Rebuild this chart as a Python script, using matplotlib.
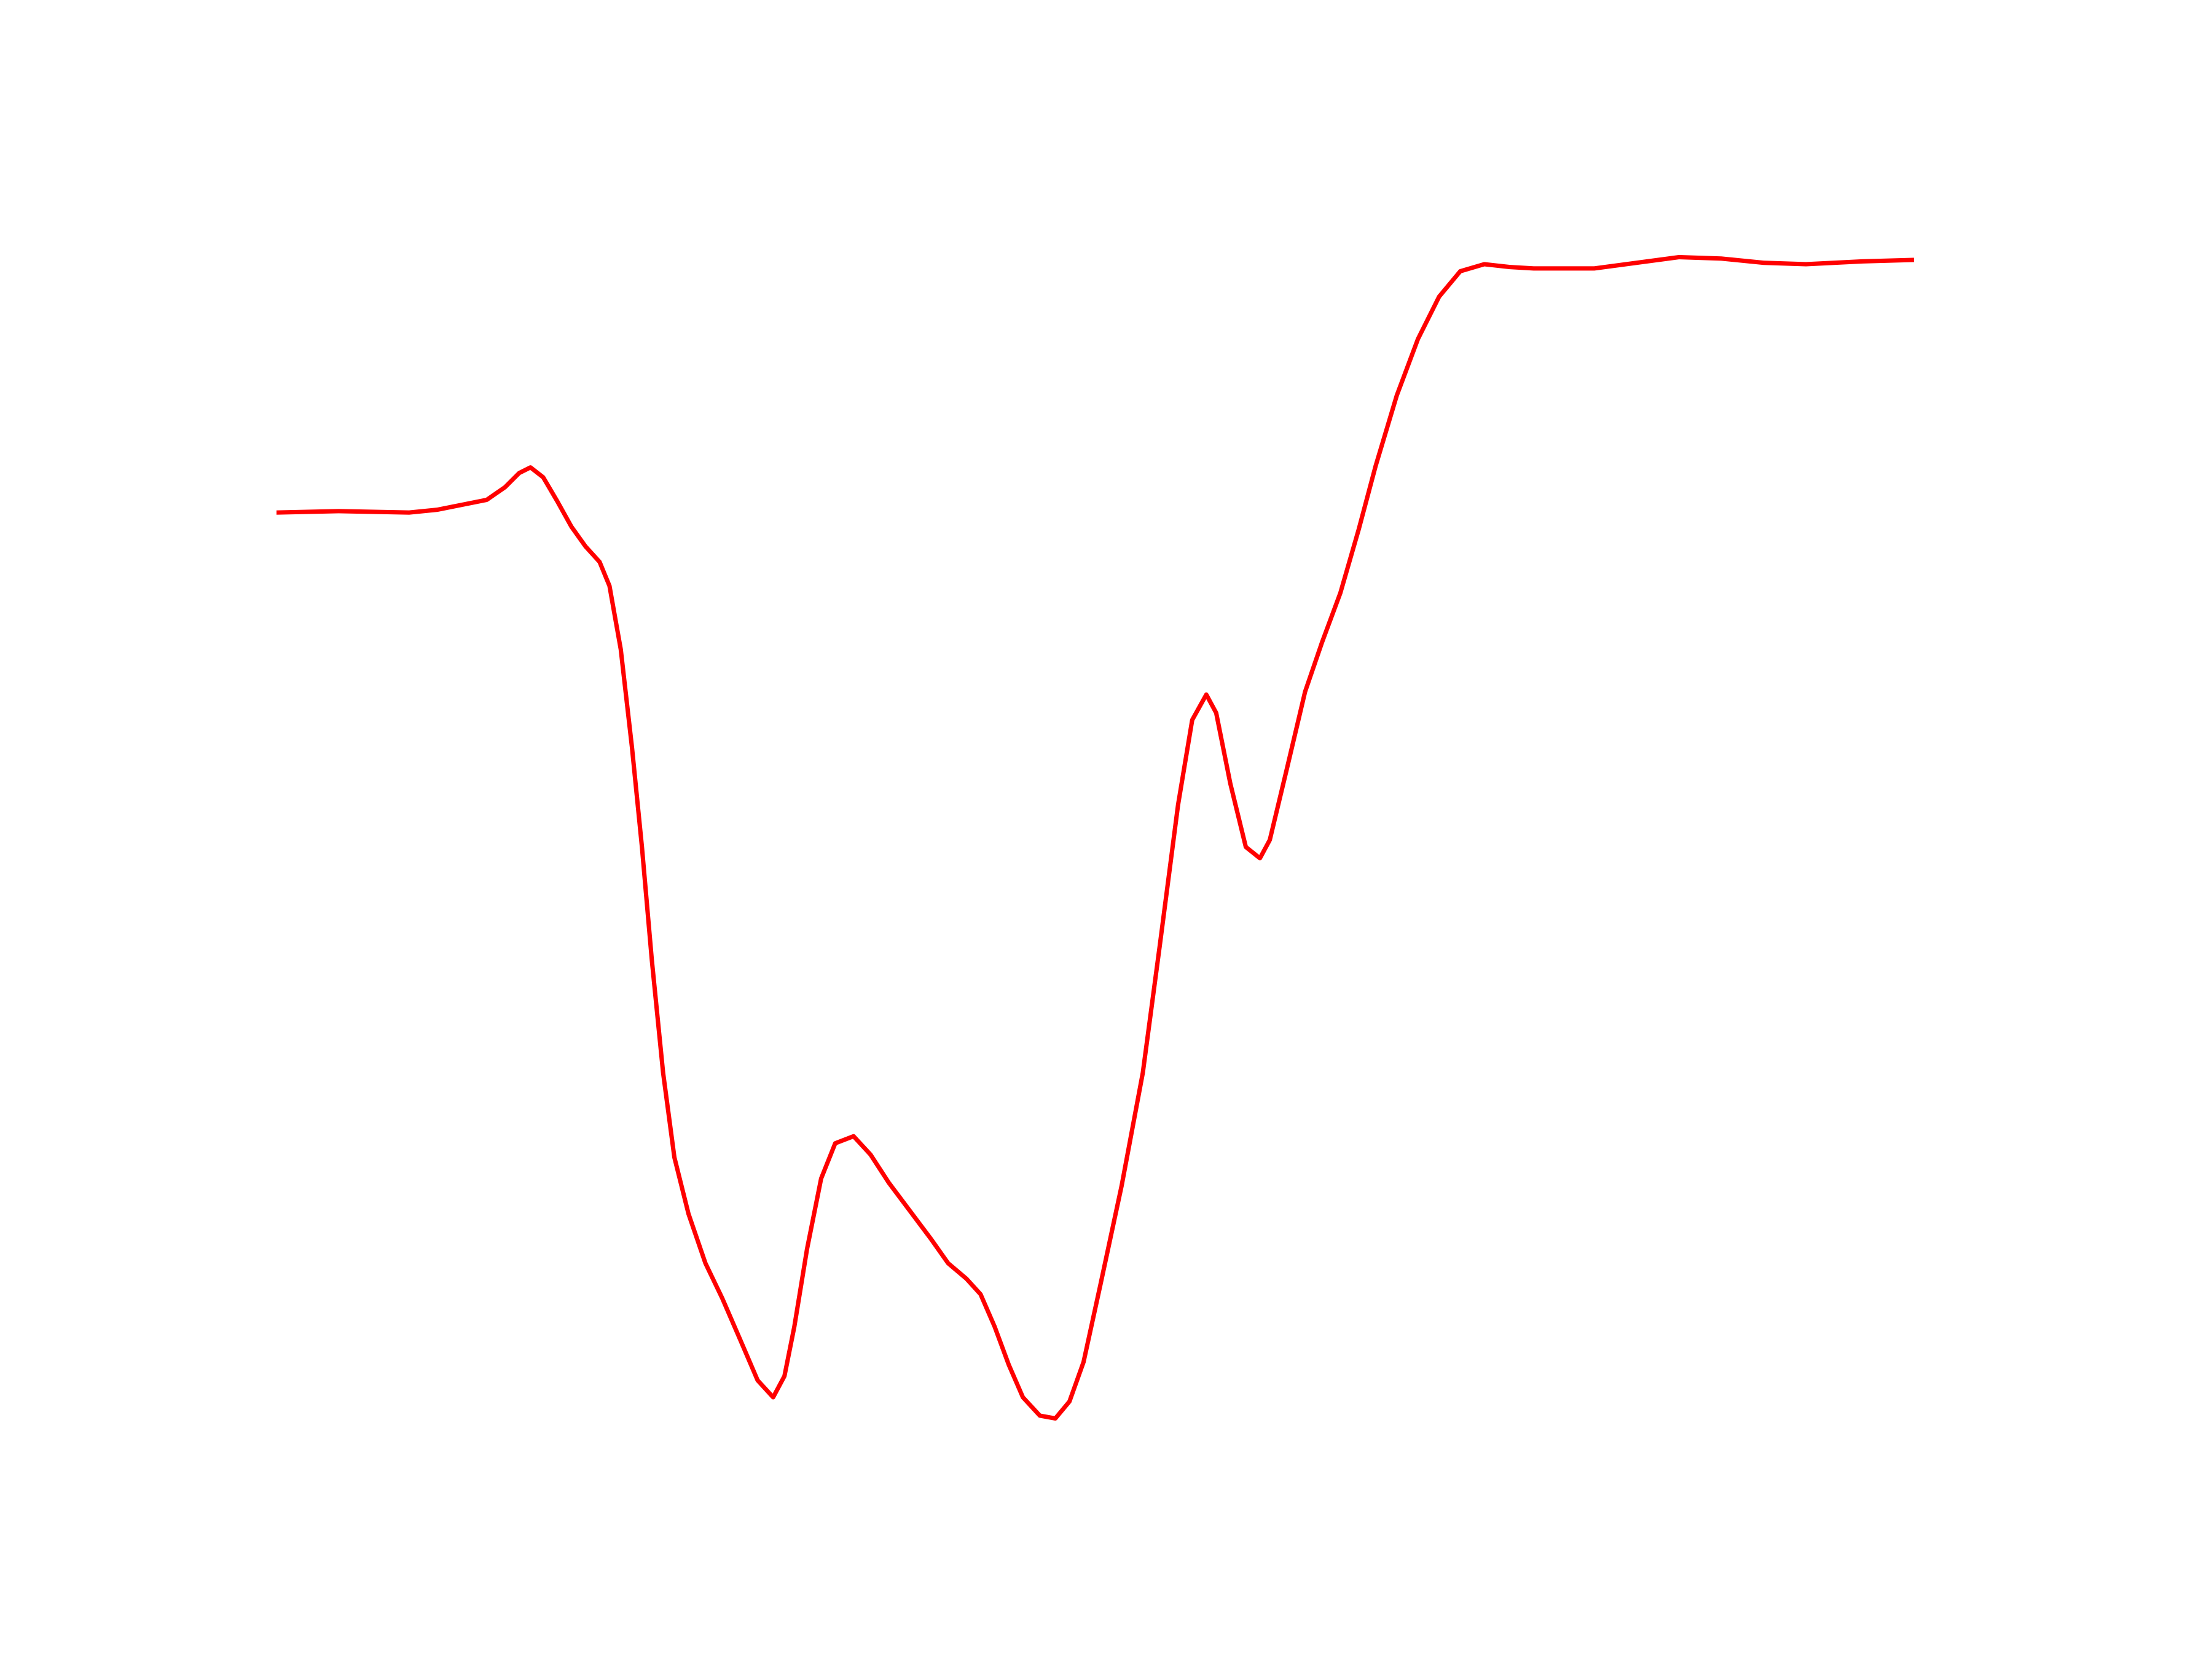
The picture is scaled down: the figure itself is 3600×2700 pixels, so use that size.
import matplotlib
matplotlib.use("Agg")
import matplotlib.pyplot as plt

# values (x position, signal level; level = image height - pixel row)
x_vals = [196, 240, 290, 310, 330, 345, 358, 368, 376, 385, 395, 405, 415, 425, 432, 440, 448, 455, 462,
          470, 478, 488, 500, 512, 525, 537, 548, 556, 563, 572, 582, 592, 605, 617, 630, 645, 660, 672,
          685, 695, 705, 715, 725, 737, 748, 758, 768, 780, 795, 810, 822, 835, 845, 855, 862, 872, 883,
          893, 900, 912, 925, 937, 950, 963, 975, 990, 1005, 1020, 1035, 1052, 1070, 1087, 1110, 1130,
          1160, 1190, 1220, 1250, 1280, 1320, 1355]
y_rows = [363, 362, 363, 361, 357, 354, 345, 335, 331, 338, 355, 373, 387, 398, 415, 460, 530, 600, 680,
          760, 820, 860, 895, 920, 950, 978, 990, 975, 940, 885, 835, 810, 805, 818, 838, 858, 878, 895,
          906, 917, 940, 967, 990, 1003, 1005, 993, 965, 910, 840, 760, 670, 570, 510, 492, 505, 555, 600,
          608, 595, 545, 490, 455, 420, 375, 330, 280, 240, 210, 192, 187, 189, 190, 190, 190,
          186, 182, 183, 186, 187, 185, 184]
levels = [1176 - r for r in y_rows]

fig, ax = plt.subplots(figsize=(12, 9), dpi=300)
ax.plot(x_vals, levels, color='red', lw=1.7)
ax.set_xlim(196, 1411)
ax.axis('off')
plt.savefig("out.png", dpi=300)
